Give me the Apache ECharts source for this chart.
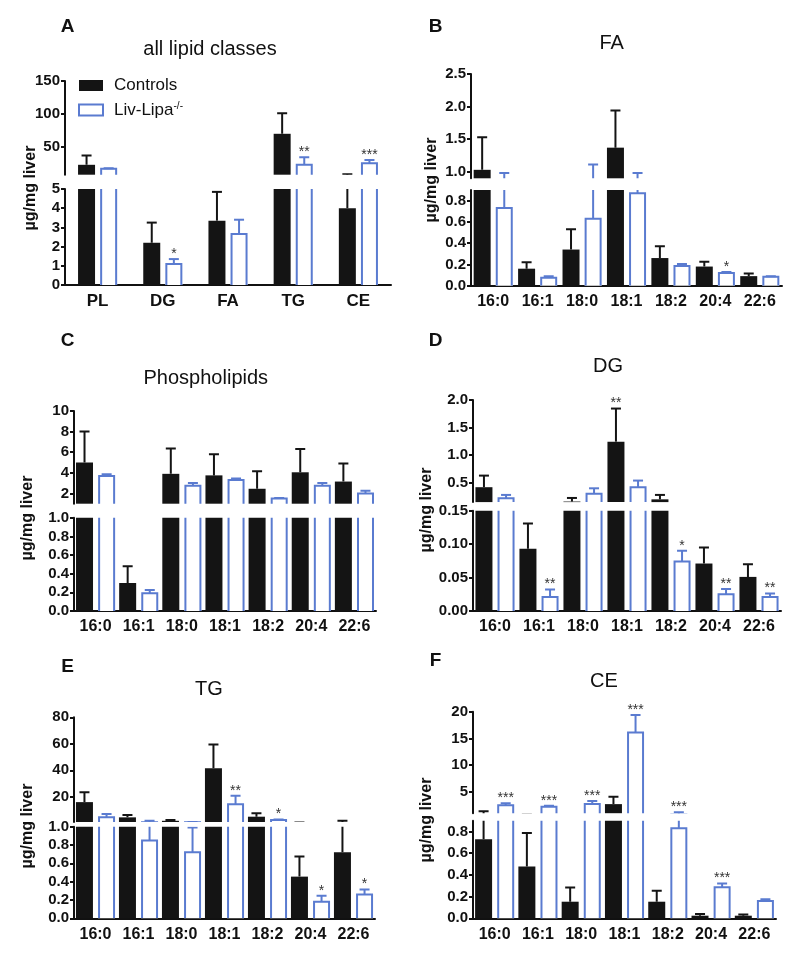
<!DOCTYPE html>
<html><head><meta charset="utf-8">
<script src="https://cdn.jsdelivr.net/npm/echarts@6/dist/echarts.min.js"></script>
<style>html,body{margin:0;padding:0;background:#fff}#c{width:800px;height:955px}</style>
</head><body><div id="c"></div>
<script>
// ---------------- data ----------------
const lipidClasses = ['PL', 'DG', 'FA', 'TG', 'CE'];
const fattyAcids = ['16:0', '16:1', '18:0', '18:1', '18:2', '20:4', '22:6'];
const seriesNames = ['Controls', 'Liv-Lipa-/-'];

// A: all lipid classes
const ctrlA = [23, 2.2, 3.35, 70, 4.0];
const ctrlErrA = [14, 1.05, 1.5, 31, 4.7];
const livA = [17, 1.1, 2.65, 23, 25.3];
const livErrA = [0.6, 0.25, 0.75, 11.5, 5];
const sigCtrlA = ['', '', '', '', ''];
const sigLivA = ['', '*', '', '**', '***'];
const upperTicksA = [50, 100, 150];
const lowerTicksA = [0, 1, 2, 3, 4, 5];

// B: FA
const ctrlB = [1.03, 0.16, 0.34, 1.37, 0.26, 0.18, 0.09];
const ctrlErrB = [0.5, 0.06, 0.19, 0.57, 0.11, 0.045, 0.025];
const livB = [0.73, 0.075, 0.63, 0.87, 0.185, 0.12, 0.085];
const livErrB = [0.25, 0.015, 0.48, 0.11, 0.02, 0.008, 0.005];
const sigCtrlB = ['', '', '', '', '', '', ''];
const sigLivB = ['', '', '', '', '', '*', ''];
const upperTicksB = [1.0, 1.5, 2.0, 2.5];
const lowerTicksB = [0, 0.2, 0.4, 0.6, 0.8];

// C: Phospholipids
const ctrlC = [5.0, 0.30, 3.9, 3.75, 2.45, 4.05, 3.15];
const ctrlErrC = [3.0, 0.18, 2.45, 2.05, 1.7, 2.25, 1.75];
const livC = [3.7, 0.19, 2.75, 3.3, 1.5, 2.75, 2.0];
const livErrC = [0.15, 0.035, 0.25, 0.15, 0.06, 0.25, 0.25];
const sigCtrlC = ['', '', '', '', '', '', ''];
const sigLivC = ['', '', '', '', '', '', ''];
const upperTicksC = [2, 4, 6, 8, 10];
const lowerTicksC = [0, 0.2, 0.4, 0.6, 0.8, 1.0];

// D: DG
const ctrlD = [0.42, 0.093, 0.16, 1.245, 0.2, 0.071, 0.051];
const ctrlErrD = [0.21, 0.038, 0.065, 0.6, 0.08, 0.024, 0.019];
const livD = [0.22, 0.021, 0.30, 0.42, 0.074, 0.025, 0.021];
const livErrD = [0.06, 0.011, 0.1, 0.12, 0.016, 0.008, 0.005];
const sigCtrlD = ['', '', '', '**', '', '', ''];
const sigLivD = ['', '**', '', '', '*', '**', '**'];
const upperTicksD = [0.5, 1.0, 1.5, 2.0];
const lowerTicksD = [0, 0.05, 0.10, 0.15];

// E: TG
const ctrlE = [16, 4.5, 1.9, 41.5, 5.0, 0.455, 0.72];
const ctrlErrE = [7.5, 1.8, 0.6, 18, 2.6, 0.22, 1.3];
const livE = [4.5, 0.85, 0.72, 14.3, 2.5, 0.18, 0.26];
const livErrE = [2.5, 1.15, 0.27, 6.5, 0.3, 0.065, 0.055];
const sigCtrlE = ['', '', '', '', '', '', ''];
const sigLivE = ['', '', '', '**', '*', '*', '*'];
const upperTicksE = [20, 40, 60, 80];
const lowerTicksE = [0, 0.2, 0.4, 0.6, 0.8, 1.0];

// F: CE
const ctrlF = [0.73, 0.477, 0.153, 2.7, 0.153, 0.024, 0.024];
const ctrlErrF = [0.65, 0.31, 0.13, 1.4, 0.1, 0.015, 0.01];
const livF = [2.5, 2.2, 2.7, 16.1, 0.83, 0.286, 0.16];
const livErrF = [0.35, 0.2, 0.6, 3.3, 0.34, 0.035, 0.015];
const sigCtrlF = ['', '', '', '', '', '', ''];
const sigLivF = ['***', '***', '***', '***', '***', '***', ''];
const upperTicksF = [5, 10, 15, 20];
const lowerTicksF = [0, 0.2, 0.4, 0.6, 0.8];

// ---------------- layout / style ----------------
const FONT = '"Liberation Sans", Arial, sans-serif';
const BLUE = '#5a7bd0';
const BLACK = '#141414';
const BW = 17, GAP = 0.3;
const OFF = BW * (1 + GAP) / 2;

const panels = [
  {letter: 'A', title: 'all lipid classes', cats: lipidClasses, ctrl: ctrlA, ctrlErr: ctrlErrA, liv: livA, livErr: livErrA, sigC: sigCtrlA, sigL: sigLivA,
   upT: upperTicksA, loT: lowerTicksA, upMin: 8, upMax: 150, loMax: 5, upDec: 0, loDec: 0,
   left: 65, width: 326, upTop: 81, upH: 93.7, loTop: 189, loH: 96, xFont: 17,
   letterPos: [67.5, 26.5], titlePos: [210, 49], namePos: [31, 188]},
  {letter: 'B', title: 'FA', cats: fattyAcids, ctrl: ctrlB, ctrlErr: ctrlErrB, liv: livB, livErr: livErrB, sigC: sigCtrlB, sigL: sigLivB,
   upT: upperTicksB, loT: lowerTicksB, upMin: 0.9, upMax: 2.5, loMax: 0.9, upDec: 1, loDec: 1,
   left: 471, width: 311, upTop: 74, upH: 104.3, loTop: 190, loH: 95.7, xFont: 16,
   letterPos: [435.5, 26.5], titlePos: [611.7, 43.3], namePos: [432, 180]},
  {letter: 'C', title: 'Phospholipids', cats: fattyAcids, ctrl: ctrlC, ctrlErr: ctrlErrC, liv: livC, livErr: livErrC, sigC: sigCtrlC, sigL: sigLivC,
   upT: upperTicksC, loT: lowerTicksC, upMin: 1, upMax: 10, loMax: 1, upDec: 0, loDec: 1,
   left: 74, width: 302, upTop: 411, upH: 92.7, loTop: 517.7, loH: 93.3, xFont: 16,
   letterPos: [67.5, 341], titlePos: [205.8, 378.3], namePos: [28, 518]},
  {letter: 'D', title: 'DG', cats: fattyAcids, ctrl: ctrlD, ctrlErr: ctrlErrD, liv: livD, livErr: livErrD, sigC: sigCtrlD, sigL: sigLivD,
   upT: upperTicksD, loT: lowerTicksD, upMin: 0.15, upMax: 2.0, loMax: 0.15, upDec: 1, loDec: 2,
   left: 473, width: 308, upTop: 400, upH: 102.1, loTop: 510.7, loH: 100.3, xFont: 16,
   letterPos: [435.5, 340.3], titlePos: [608, 366.3], namePos: [427, 510]},
  {letter: 'E', title: 'TG', cats: fattyAcids, ctrl: ctrlE, ctrlErr: ctrlErrE, liv: livE, livErr: livErrE, sigC: sigCtrlE, sigL: sigLivE,
   upT: upperTicksE, loT: lowerTicksE, upMin: 1, upMax: 80, loMax: 1, upDec: 0, loDec: 1,
   left: 74, width: 301, upTop: 717.3, upH: 104.7, loTop: 826.7, loH: 91.6, xFont: 16,
   letterPos: [67.5, 666.3], titlePos: [209, 689], namePos: [28, 826]},
  {letter: 'F', title: 'CE', cats: fattyAcids, ctrl: ctrlF, ctrlErr: ctrlErrF, liv: livF, livErr: livErrF, sigC: sigCtrlF, sigL: sigLivF,
   upT: upperTicksF, loT: lowerTicksF, upMin: 1, upMax: 20, loMax: 0.9, upDec: 0, loDec: 1,
   left: 473, width: 303, upTop: 711.7, upH: 101.5, loTop: 820.7, loH: 97.6, xFont: 16,
   letterPos: [435.5, 661], titlePos: [604, 681.7], namePos: [427, 820]}
];

const grids = [], xAxes = [], yAxes = [], series = [], graphics = [];

function pairs(vals) { return vals.map((v, i) => [i, v]); }

panels.forEach(p => {
  [false, true].forEach(isUp => {
    const g = grids.length;
    grids.push({left: p.left, width: p.width, top: isUp ? p.upTop : p.loTop, height: isUp ? p.upH : p.loH});
    xAxes.push({
      type: 'category', gridIndex: g, data: p.cats, show: !isUp,
      axisLine: {show: true, lineStyle: {color: '#111', width: 2}},
      axisTick: {show: false},
      axisLabel: {color: '#111', fontWeight: 'bold', fontSize: p.xFont, fontFamily: FONT, margin: 8, interval: 0}
    });
    const ticks = isUp ? p.upT : p.loT;
    const dec = isUp ? p.upDec : p.loDec;
    yAxes.push({
      type: 'value', gridIndex: g,
      min: isUp ? p.upMin : 0, max: isUp ? p.upMax : p.loMax,
      axisLine: {show: true, lineStyle: {color: '#111', width: 2}},
      axisTick: {show: true, length: 4, lineStyle: {color: '#111', width: 2}, customValues: ticks},
      axisLabel: {customValues: ticks, formatter: v => Number(v).toFixed(dec), color: '#111', fontWeight: 'bold', fontSize: 15, fontFamily: FONT, margin: 5},
      splitLine: {show: false}
    });
    const hi = isUp ? p.upMax : p.loMax;
    series.push({
      name: seriesNames[0], type: 'bar', xAxisIndex: g, yAxisIndex: g, data: p.ctrl.slice(),
      barWidth: BW, barGap: (GAP * 100) + '%', itemStyle: {color: BLACK}, clip: true, z: 2
    });
    series.push({
      name: seriesNames[1], type: 'bar', xAxisIndex: g, yAxisIndex: g, data: p.liv.slice(),
      barWidth: BW, barGap: (GAP * 100) + '%', itemStyle: {color: '#ffffff'}, clip: true, z: 2
    });
    // open outline of Liv-Lipa bars
    series.push({
      name: 'outline', type: 'custom', xAxisIndex: g, yAxisIndex: g, data: pairs(p.liv), encode: {x: 0, y: 1},
      clip: true, z: 3, silent: true,
      renderItem: (params, api) => {
        const i = params.dataIndex;
        const pt = api.coord([i, p.liv[i]]);
        const base = api.coord([i, 0]);
        const x = pt[0] + OFF, h = BW / 2 - 1;
        return {type: 'polyline', shape: {points: [[x - h, base[1]], [x - h, pt[1]], [x + h, pt[1]], [x + h, base[1]]]},
                style: {stroke: BLUE, lineWidth: 2, fill: null}};
      }
    });
    // error bars
    [[p.ctrl, p.ctrlErr, -OFF, BLACK], [p.liv, p.livErr, OFF, BLUE]].forEach(([vals, errs, off, col]) => {
      series.push({
        name: 'error', type: 'custom', xAxisIndex: g, yAxisIndex: g, data: pairs(vals), encode: {x: 0, y: 1},
        clip: true, z: 4, silent: true,
        renderItem: (params, api) => {
          const i = params.dataIndex;
          const a = api.coord([i, vals[i]]);
          const b = api.coord([i, vals[i] + errs[i]]);
          const x = a[0] + off;
          return {type: 'group', children: [
            {type: 'line', shape: {x1: x, y1: a[1], x2: x, y2: b[1]}, style: {stroke: col, lineWidth: 2}},
            {type: 'line', shape: {x1: x - 5, y1: b[1], x2: x + 5, y2: b[1]}, style: {stroke: col, lineWidth: 2}}
          ]};
        }
      });
    });
    // significance stars
    [[p.ctrl, p.ctrlErr, p.sigC, -OFF], [p.liv, p.livErr, p.sigL, OFF]].forEach(([vals, errs, sig, off]) => {
      series.push({
        name: 'sig', type: 'custom', xAxisIndex: g, yAxisIndex: g, data: pairs(vals), encode: {x: 0, y: 1},
        clip: false, z: 5, silent: true,
        renderItem: (params, api) => {
          const i = params.dataIndex;
          if (!sig[i]) return null;
          const top = vals[i] + errs[i];
          const inHere = isUp ? (top > p.loMax && top <= hi) : (top <= p.loMax);
          if (!inHere) return null;
          const b = api.coord([i, top]);
          return {type: 'text', x: b[0] + off, y: b[1] + 2,
                  style: {text: sig[i], fill: '#333', font: '14px ' + FONT, align: 'center', verticalAlign: 'bottom',
                          textAlign: 'center', textVerticalAlign: 'bottom'}};
        }
      });
    });
  });

  graphics.push({type: 'text', x: p.letterPos[0], y: p.letterPos[1], z: 10,
    style: {text: p.letter, font: 'bold 19px ' + FONT, fill: '#111', align: 'center', verticalAlign: 'middle', textAlign: 'center', textVerticalAlign: 'middle'}});
  graphics.push({type: 'text', x: p.titlePos[0], y: p.titlePos[1], z: 10,
    style: {text: p.title, font: '20px ' + FONT, fill: '#111', align: 'center', verticalAlign: 'middle', textAlign: 'center', textVerticalAlign: 'middle'}});
  graphics.push({type: 'text', x: p.namePos[0], y: p.namePos[1], rotation: Math.PI / 2, z: 10,
    style: {text: 'µg/mg liver', font: 'bold 16px ' + FONT, fill: '#111', align: 'center', verticalAlign: 'middle', textAlign: 'center', textVerticalAlign: 'middle'}});
});

const chart = echarts.init(document.getElementById('c'), null, {renderer: 'canvas'});
chart.setOption({
  animation: false,
  backgroundColor: '#fff',
  grid: grids, xAxis: xAxes, yAxis: yAxes, series: series, graphic: graphics,
  legend: {
    orient: 'vertical', left: 78, top: 77, padding: 0, itemWidth: 24, itemHeight: 11, itemGap: 7, icon: 'rect',
    selectedMode: false,
    data: [
      {name: seriesNames[0], itemStyle: {color: BLACK}},
      {name: seriesNames[1], itemStyle: {color: '#fff', borderColor: BLUE, borderWidth: 2}}
    ],
    formatter: name => name === seriesNames[1] ? '{n|Liv-Lipa}{s|-/-}' : '{n|' + name + '}',
    textStyle: {padding: [0, 0, 0, 6], rich: {
      n: {fontSize: 17, fontFamily: FONT, color: '#111'},
      s: {fontSize: 10, fontFamily: FONT, color: '#111', verticalAlign: 'top', padding: [0, 0, 8, 0]}
    }}
  }
});
</script></body></html>
